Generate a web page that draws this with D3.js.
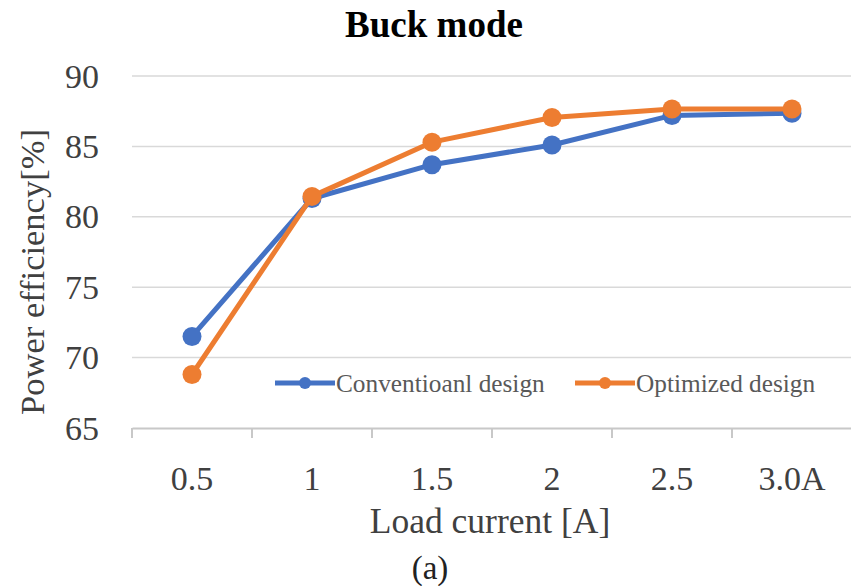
<!DOCTYPE html>
<html>
<head>
<meta charset="utf-8">
<script src="https://cdn.jsdelivr.net/npm/d3@7"></script>
<style>
  body { margin: 0; background: #fff; }
  svg { display: block; font-family: "Times New Roman", "Liberation Serif", serif; }
</style>
</head>
<body>
<svg></svg>
<script>
let categories = ['0.5', '1', '1.5', '2', '2.5', '3.0A']
let conventional = [71.5, 81.3, 83.7, 85.1, 87.2, 87.35]
let optimized = [68.8, 81.45, 85.3, 87.05, 87.65, 87.65]
let yTicks = [65, 70, 75, 80, 85, 90]
let seriesNames = ['Conventioanl design', 'Optimized design']
let seriesColors = ['#4472C4', '#ED7D31']

let width = 851
let height = 586
let margin = { left: 132, right: 851 + 1, top: 76, bottom: 428 }

let svg = d3.select('svg')
    .attr('width', width)
    .attr('height', height)

let x = d3.scaleBand()
          .domain(categories)
          .range([margin.left, margin.right])
          .padding(0)

let y = d3.scaleLinear()
          .domain([65, 90])
          .range([margin.bottom, margin.top])

// gridlines
svg.append('g')
    .selectAll('line')
    .data(yTicks.filter(d => d > 65))
    .enter()
    .append('line')
      .attr('x1', margin.left)
      .attr('x2', margin.right)
      .attr('y1', d => y(d))
      .attr('y2', d => y(d))
      .attr('stroke', '#d9d9d9')
      .attr('stroke-width', 1.5)

// y labels
svg.append('g')
    .selectAll('text')
    .data(yTicks)
    .enter()
    .append('text')
      .attr('x', 99)
      .attr('y', d => y(d))
      .attr('dy', '0.34em')
      .attr('text-anchor', 'end')
      .attr('font-size', 34)
      .attr('fill', '#404040')
      .text(d => d)

// x axis
let xAxis = svg.append('g')
    .attr('transform', `translate(0, ${margin.bottom})`)
    .call(d3.axisBottom(x).tickSize(0).tickPadding(38))

xAxis.select('.domain')
    .attr('stroke', '#c8c8c8')
    .attr('stroke-width', 2)

xAxis.selectAll('.tick text')
    .attr('font-size', 34)
    .attr('font-family', '"Times New Roman", "Liberation Serif", serif')
    .attr('fill', '#404040')

let boundaries = categories.map(c => x(c)).concat([x.range()[1]])
xAxis.selectAll('.bound')
    .data(boundaries)
    .enter()
    .append('line')
      .classed('bound', true)
      .attr('x1', d => d)
      .attr('x2', d => d)
      .attr('y1', 0)
      .attr('y2', 10)
      .attr('stroke', '#c8c8c8')
      .attr('stroke-width', 2)

// lines
let line = d3.line()
             .x((d, i) => x(categories[i]) + x.bandwidth() / 2)
             .y(d => y(d))

let allSeries = [conventional, optimized]

allSeries.forEach((values, si) => {
  let g = svg.append('g')
  g.append('path')
    .datum(values)
    .attr('d', line)
    .attr('fill', 'none')
    .attr('stroke', seriesColors[si])
    .attr('stroke-width', 5)
    .attr('stroke-linejoin', 'round')
  g.selectAll('circle')
    .data(values)
    .enter()
    .append('circle')
      .attr('cx', (d, i) => x(categories[i]) + x.bandwidth() / 2)
      .attr('cy', d => y(d))
      .attr('r', 9.5)
      .attr('fill', seriesColors[si])
})

// legend
let legendX = [275, 575]
let legend = svg.append('g')
    .selectAll('g')
    .data(seriesNames)
    .enter()
    .append('g')
      .attr('transform', (d, i) => `translate(${legendX[i]}, 383)`)

legend.append('line')
    .attr('x1', 0)
    .attr('x2', 60)
    .attr('stroke', (d, i) => seriesColors[i])
    .attr('stroke-width', 5)

legend.append('circle')
    .attr('cx', 30)
    .attr('r', 6)
    .attr('fill', (d, i) => seriesColors[i])

legend.append('text')
    .attr('x', 61)
    .attr('dy', '0.34em')
    .attr('font-size', 25.3)
    .attr('fill', '#595959')
    .text(d => d)

// titles
svg.append('text')
    .attr('x', 434)
    .attr('y', 37)
    .attr('text-anchor', 'middle')
    .attr('font-size', 37)
    .attr('font-weight', 'bold')
    .attr('fill', '#000')
    .text('Buck mode')

svg.append('text')
    .attr('transform', 'translate(44, 272) rotate(-90)')
    .attr('text-anchor', 'middle')
    .attr('font-size', 34.5)
    .attr('fill', '#404040')
    .text('Power efficiency[%]')

svg.append('text')
    .attr('x', 490)
    .attr('y', 533)
    .attr('text-anchor', 'middle')
    .attr('font-size', 35.5)
    .attr('fill', '#404040')
    .text('Load current [A]')

svg.append('text')
    .attr('x', 430)
    .attr('y', 579)
    .attr('text-anchor', 'middle')
    .attr('font-size', 33)
    .attr('fill', '#222')
    .text('(a)')
</script>
</body>
</html>
